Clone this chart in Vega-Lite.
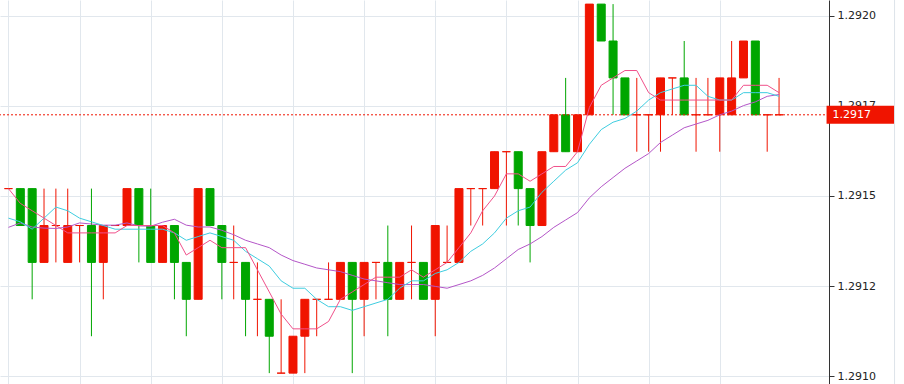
{
  "$schema": "https://vega.github.io/schema/vega-lite/v6.json",
  "width": 829,
  "height": 384,
  "autosize": {"type": "none"},
  "padding": {"left": 0, "top": 0, "right": 75, "bottom": 0},
  "background": "#ffffff",
  "config": {"view": {"stroke": null}},
  "data": {"values": [
    {"k":0,"o":1.2915205,"h":1.2915205,"l":1.2915205,"c":1.2915205,"m5":1.2915205,"m10":1.2914385,"m20":1.2914129},
    {"k":1,"o":1.2915205,"h":1.2915205,"l":1.291418,"c":1.291418,"m5":1.2914795,"m10":1.2914283,"m20":1.2914252},
    {"k":2,"o":1.2915205,"h":1.2915205,"l":1.291213,"c":1.2913155,"m5":1.291459,"m10":1.2914078,"m20":1.2914139},
    {"k":3,"o":1.2913155,"h":1.2915205,"l":1.2913155,"c":1.291418,"m5":1.2914385,"m10":1.2914385,"m20":1.2914108},
    {"k":4,"o":1.291418,"h":1.2915205,"l":1.2913155,"c":1.291418,"m5":1.291418,"m10":1.2914693,"m20":1.2914098},
    {"k":5,"o":1.2913155,"h":1.2915205,"l":1.2913155,"c":1.291418,"m5":1.2913975,"m10":1.291459,"m20":1.2914139},
    {"k":6,"o":1.291418,"h":1.291418,"l":1.2913155,"c":1.291418,"m5":1.2913975,"m10":1.2914385,"m20":1.2914252},
    {"k":7,"o":1.291418,"h":1.2915205,"l":1.2911105,"c":1.2913155,"m5":1.2913975,"m10":1.2914283,"m20":1.2914221},
    {"k":8,"o":1.2913155,"h":1.291418,"l":1.291213,"c":1.291418,"m5":1.2913975,"m10":1.291418,"m20":1.291419},
    {"k":9,"o":1.291418,"h":1.291418,"l":1.291418,"c":1.291418,"m5":1.2913975,"m10":1.2914078,"m20":1.291419},
    {"k":10,"o":1.291418,"h":1.2915205,"l":1.291418,"c":1.2915205,"m5":1.291418,"m10":1.2914078,"m20":1.2914252},
    {"k":11,"o":1.2915205,"h":1.2915205,"l":1.2913155,"c":1.291418,"m5":1.291418,"m10":1.2914078,"m20":1.291417},
    {"k":12,"o":1.291418,"h":1.2915205,"l":1.2913155,"c":1.2913155,"m5":1.291418,"m10":1.2914078,"m20":1.291416},
    {"k":13,"o":1.2913155,"h":1.291418,"l":1.2913155,"c":1.291418,"m5":1.291418,"m10":1.2914078,"m20":1.2914272},
    {"k":14,"o":1.291418,"h":1.291418,"l":1.291213,"c":1.2913155,"m5":1.2913975,"m10":1.2913975,"m20":1.2914354},
    {"k":15,"o":1.2913155,"h":1.2913155,"l":1.2911105,"c":1.291213,"m5":1.291336,"m10":1.291377,"m20":1.291419},
    {"k":16,"o":1.291213,"h":1.2915205,"l":1.291213,"c":1.2915205,"m5":1.2913565,"m10":1.2913873,"m20":1.2914139},
    {"k":17,"o":1.2915205,"h":1.2915205,"l":1.291418,"c":1.291418,"m5":1.291377,"m10":1.2913975,"m20":1.2914139},
    {"k":18,"o":1.291418,"h":1.291418,"l":1.291213,"c":1.2913155,"m5":1.2913565,"m10":1.2913873,"m20":1.2914047},
    {"k":19,"o":1.2913155,"h":1.291418,"l":1.291213,"c":1.2913155,"m5":1.2913565,"m10":1.291377,"m20":1.2913924},
    {"k":20,"o":1.2913155,"h":1.2913155,"l":1.2911105,"c":1.291213,"m5":1.2913565,"m10":1.2913463,"m20":1.291377},
    {"k":21,"o":1.291213,"h":1.2913155,"l":1.2911105,"c":1.291213,"m5":1.291295,"m10":1.2913258,"m20":1.2913668},
    {"k":22,"o":1.291213,"h":1.291213,"l":1.291008,"c":1.2911105,"m5":1.2912335,"m10":1.2913053,"m20":1.2913565},
    {"k":23,"o":1.291008,"h":1.291213,"l":1.291008,"c":1.291008,"m5":1.291172,"m10":1.2912643,"m20":1.291336},
    {"k":24,"o":1.291008,"h":1.2911105,"l":1.291008,"c":1.2911105,"m5":1.291131,"m10":1.2912438,"m20":1.2913206},
    {"k":25,"o":1.2911105,"h":1.291213,"l":1.291008,"c":1.291213,"m5":1.291131,"m10":1.2912438,"m20":1.2913104},
    {"k":26,"o":1.291213,"h":1.291213,"l":1.2911105,"c":1.291213,"m5":1.291131,"m10":1.291213,"m20":1.2913001},
    {"k":27,"o":1.291213,"h":1.2913155,"l":1.291213,"c":1.291213,"m5":1.2911515,"m10":1.2911925,"m20":1.291295},
    {"k":28,"o":1.291213,"h":1.2913155,"l":1.291213,"c":1.2913155,"m5":1.291213,"m10":1.2911925,"m20":1.2912899},
    {"k":29,"o":1.2913155,"h":1.2913155,"l":1.291008,"c":1.291213,"m5":1.2912335,"m10":1.2911823,"m20":1.2912796},
    {"k":30,"o":1.291213,"h":1.2913155,"l":1.2911105,"c":1.2913155,"m5":1.291254,"m10":1.2911925,"m20":1.2912694},
    {"k":31,"o":1.2913155,"h":1.2913155,"l":1.291213,"c":1.2913155,"m5":1.2912745,"m10":1.2912028,"m20":1.2912643},
    {"k":32,"o":1.2913155,"h":1.291418,"l":1.2911105,"c":1.291213,"m5":1.2912745,"m10":1.291213,"m20":1.2912591},
    {"k":33,"o":1.291213,"h":1.2913155,"l":1.291213,"c":1.2913155,"m5":1.2912745,"m10":1.2912438,"m20":1.291254},
    {"k":34,"o":1.2913155,"h":1.291418,"l":1.291213,"c":1.2913155,"m5":1.291295,"m10":1.2912643,"m20":1.291254},
    {"k":35,"o":1.2913155,"h":1.2913155,"l":1.291213,"c":1.291213,"m5":1.2912745,"m10":1.2912643,"m20":1.291254},
    {"k":36,"o":1.291213,"h":1.291418,"l":1.2911105,"c":1.291418,"m5":1.291295,"m10":1.2912848,"m20":1.2912489},
    {"k":37,"o":1.2913155,"h":1.291418,"l":1.2913155,"c":1.2913155,"m5":1.2913155,"m10":1.291295,"m20":1.2912438},
    {"k":38,"o":1.2913155,"h":1.2915205,"l":1.2913155,"c":1.2915205,"m5":1.2913565,"m10":1.2913155,"m20":1.291254},
    {"k":39,"o":1.2915205,"h":1.2915205,"l":1.291418,"c":1.2915205,"m5":1.2913975,"m10":1.2913463,"m20":1.2912643},
    {"k":40,"o":1.2915205,"h":1.2915205,"l":1.291418,"c":1.2915205,"m5":1.291459,"m10":1.2913668,"m20":1.2912796},
    {"k":41,"o":1.2915205,"h":1.291623,"l":1.2915205,"c":1.291623,"m5":1.2915,"m10":1.2913975,"m20":1.2913001},
    {"k":42,"o":1.291623,"h":1.291623,"l":1.291418,"c":1.291623,"m5":1.2915615,"m10":1.2914385,"m20":1.2913258},
    {"k":43,"o":1.291623,"h":1.291623,"l":1.291418,"c":1.2915205,"m5":1.2915615,"m10":1.291459,"m20":1.2913514},
    {"k":44,"o":1.2915205,"h":1.2915205,"l":1.2913155,"c":1.291418,"m5":1.291541,"m10":1.2914693,"m20":1.2913668},
    {"k":45,"o":1.291418,"h":1.291623,"l":1.291418,"c":1.291623,"m5":1.2915615,"m10":1.2915103,"m20":1.2913873},
    {"k":46,"o":1.291623,"h":1.2917255,"l":1.291623,"c":1.2917255,"m5":1.291582,"m10":1.291541,"m20":1.2914129},
    {"k":47,"o":1.2917255,"h":1.291828,"l":1.291623,"c":1.291623,"m5":1.291582,"m10":1.2915718,"m20":1.2914334},
    {"k":48,"o":1.291623,"h":1.2917255,"l":1.291623,"c":1.2917255,"m5":1.291623,"m10":1.2915923,"m20":1.2914539},
    {"k":49,"o":1.2917255,"h":1.292033,"l":1.2917255,"c":1.292033,"m5":1.291746,"m10":1.2916435,"m20":1.2914949},
    {"k":50,"o":1.292033,"h":1.292033,"l":1.2919305,"c":1.2919305,"m5":1.2918075,"m10":1.2916845,"m20":1.2915256},
    {"k":51,"o":1.2919305,"h":1.292033,"l":1.2917255,"c":1.291828,"m5":1.291828,"m10":1.291705,"m20":1.2915513},
    {"k":52,"o":1.291828,"h":1.291828,"l":1.2917255,"c":1.2917255,"m5":1.2918485,"m10":1.2917153,"m20":1.2915769},
    {"k":53,"o":1.2917255,"h":1.291828,"l":1.291623,"c":1.2917255,"m5":1.2918485,"m10":1.2917358,"m20":1.2915974},
    {"k":54,"o":1.2917255,"h":1.2917255,"l":1.291623,"c":1.2917255,"m5":1.291787,"m10":1.2917665,"m20":1.2916179},
    {"k":55,"o":1.2917255,"h":1.291828,"l":1.291623,"c":1.291828,"m5":1.2917665,"m10":1.291787,"m20":1.2916486},
    {"k":56,"o":1.291828,"h":1.291828,"l":1.2917255,"c":1.291828,"m5":1.2917665,"m10":1.2917973,"m20":1.2916691},
    {"k":57,"o":1.291828,"h":1.2919305,"l":1.2917255,"c":1.2917255,"m5":1.2917665,"m10":1.2918075,"m20":1.2916896},
    {"k":58,"o":1.2917255,"h":1.291828,"l":1.291623,"c":1.2917255,"m5":1.2917665,"m10":1.2918075,"m20":1.2916999},
    {"k":59,"o":1.2917255,"h":1.291828,"l":1.2917255,"c":1.2917255,"m5":1.2917665,"m10":1.2917768,"m20":1.2917101},
    {"k":60,"o":1.2917255,"h":1.291828,"l":1.291623,"c":1.291828,"m5":1.2917665,"m10":1.2917665,"m20":1.2917255},
    {"k":61,"o":1.2917255,"h":1.2919305,"l":1.2917255,"c":1.291828,"m5":1.2917665,"m10":1.2917665,"m20":1.2917358},
    {"k":62,"o":1.291828,"h":1.2919305,"l":1.291828,"c":1.2919305,"m5":1.2918075,"m10":1.291787,"m20":1.2917511},
    {"k":63,"o":1.2919305,"h":1.2919305,"l":1.2917255,"c":1.2917255,"m5":1.2918075,"m10":1.291787,"m20":1.2917614},
    {"k":64,"o":1.2917255,"h":1.2917255,"l":1.291623,"c":1.2917255,"m5":1.2918075,"m10":1.291787,"m20":1.2917768},
    {"k":65,"o":1.2917255,"h":1.291828,"l":1.2917255,"c":1.2917255,"m5":1.291787,"m10":1.2917768,"m20":1.2917819}
  ]},
  "encoding": {
    "x": {"field": "k", "type": "quantitative",
      "scale": {"domain": [-0.2917, 68.7917], "nice": false, "zero": false},
      "axis": {"values": [0,6,12,18,24,30,36,42,48,54,60], "grid": true, "gridColor": "#e1e7ed", "gridWidth": 1, "labels": false, "ticks": false, "domain": false, "title": null}}
  },
  "layer": [
    {
      "mark": {"type": "rule", "strokeWidth": 1},
      "encoding": {
        "y": {"field": "l", "type": "quantitative",
          "scale": {"domain": [1.2909778, 1.2920444], "nice": false, "zero": false},
          "axis": {"orient": "right", "values": [1.291, 1.29125, 1.2915, 1.29175, 1.292],
            "labelExpr": "format(floor(datum.value*10000+0.001)/10000, '.4f')",
            "grid": true, "gridColor": "#e1e7ed", "gridWidth": 1,
            "domainColor": "#333333", "domainWidth": 1, "tickColor": "#333333", "tickSize": 5,
            "labelPadding": 3, "labelFont": "DejaVu Sans", "labelFontSize": 11, "labelColor": "#222222", "title": null}},
        "y2": {"field": "h"},
        "color": {"condition": {"test": "datum.c >= datum.o", "value": "#f01400"}, "value": "#00a600"}
      }
    },
    {
      "mark": {"type": "bar", "size": 8, "strokeWidth": 1},
      "encoding": {
        "y": {"field": "o", "type": "quantitative"},
        "y2": {"field": "c"},
        "fill": {"condition": {"test": "datum.c >= datum.o", "value": "#f01400"}, "value": "#00a600"},
        "stroke": {"condition": {"test": "datum.c >= datum.o", "value": "#f01400"}, "value": "#00a600"}
      }
    },
    {
      "transform": [{"filter": "datum.k == 65"}],
      "mark": {"type": "rule", "color": "#f01400", "strokeWidth": 1, "strokeDash": [2, 2]},
      "encoding": {"x": null, "y": {"field": "c", "type": "quantitative"}}
    },
    {
      "mark": {"type": "line", "color": "#b456c8", "strokeWidth": 1},
      "encoding": {"y": {"field": "m20", "type": "quantitative"}}
    },
    {
      "mark": {"type": "line", "color": "#3ecde0", "strokeWidth": 1},
      "encoding": {"y": {"field": "m10", "type": "quantitative"}}
    },
    {
      "mark": {"type": "line", "color": "#f0508a", "strokeWidth": 1},
      "encoding": {"y": {"field": "m5", "type": "quantitative"}}
    },
    {
      "transform": [{"filter": "datum.k == 65"}],
      "mark": {"type": "rect", "color": "#f01400", "clip": false, "xOffset": 47.5, "x2Offset": 115.5, "yOffset": -9, "y2Offset": 9},
      "encoding": {
        "x": {"field": "k", "type": "quantitative"},
        "x2": {"field": "k"},
        "y": {"field": "c", "type": "quantitative"},
        "y2": {"field": "c"}
      }
    },
    {
      "transform": [{"filter": "datum.k == 65"}],
      "mark": {"type": "text", "align": "left", "baseline": "middle", "color": "#ffffff", "font": "DejaVu Sans", "fontSize": 11, "dx": 53.5, "clip": false},
      "encoding": {
        "x": {"field": "k", "type": "quantitative"},
        "y": {"field": "c", "type": "quantitative"},
        "text": {"field": "c", "type": "quantitative", "format": ".4f"}
      }
    },
    {
      "transform": [{"filter": "datum.k == 65"}],
      "mark": {"type": "rule", "color": "#dde3e9", "strokeWidth": 1, "xOffset": 115.5, "clip": false},
      "encoding": {"x": {"field": "k", "type": "quantitative"}, "y": null}
    }
  ]
}
